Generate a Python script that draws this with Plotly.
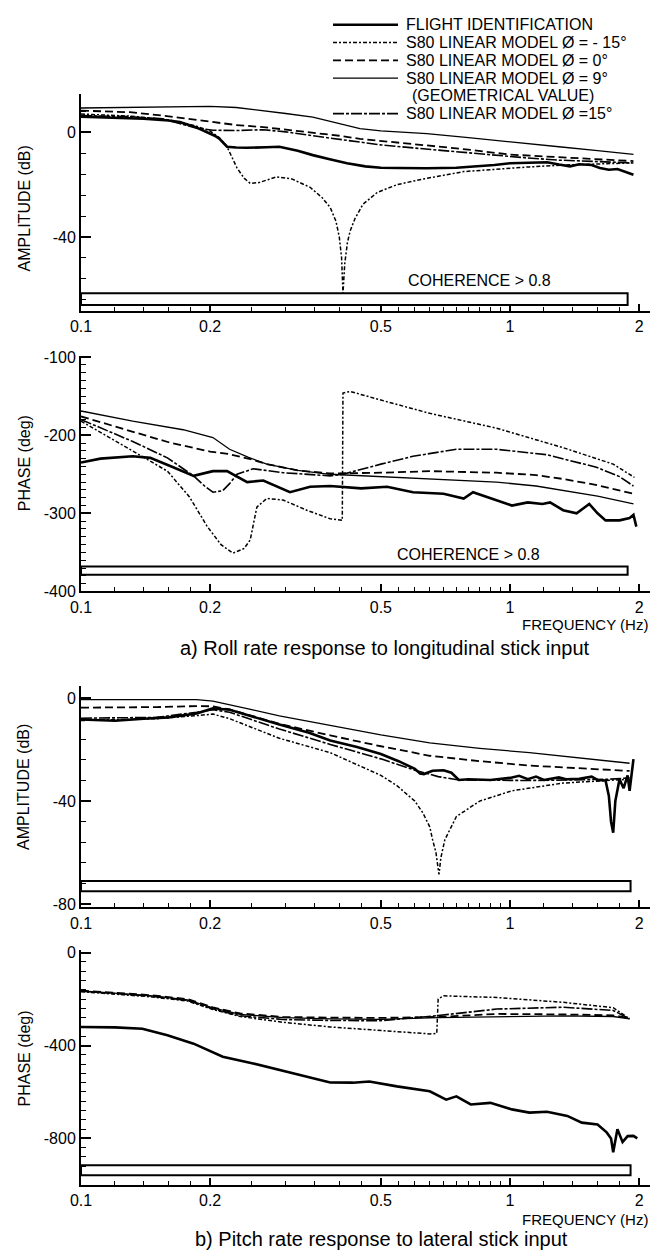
import math
import plotly.graph_objects as go

# ================= DATA =================
# ---- a) Roll rate response to longitudinal stick input : AMPLITUDE (dB) ----
aA_F_f = [0.1, 0.12, 0.14, 0.16, 0.17, 0.185, 0.197, 0.205, 0.21, 0.215, 0.219, 0.23, 0.244, 0.27, 0.29,
          0.32, 0.347, 0.38, 0.417, 0.46, 0.5, 0.55, 0.64, 0.75, 0.84, 0.92, 1.0, 1.1, 1.22, 1.3, 1.38,
          1.45, 1.55, 1.62, 1.7, 1.78, 1.85, 1.9, 1.94]
aA_F_v = [6.0, 5.6, 5.2, 4.5, 3.9, 2.0, 0.0, -1.3, -2.4, -4.0, -5.5, -5.8, -5.9, -5.7, -5.5,
          -7.0, -8.7, -10.3, -11.8, -13.0, -13.5, -13.6, -13.7, -13.5, -13.1, -12.5, -11.8, -11.6, -11.4, -12.3, -13.0,
          -12.2, -12.5, -13.6, -14.3, -14.0, -15.0, -15.4, -16.2]
aA_N_f = [0.1, 0.13, 0.16, 0.185, 0.2, 0.21, 0.219, 0.231, 0.24, 0.248, 0.26, 0.275, 0.286, 0.31, 0.342,
          0.365, 0.381, 0.393, 0.4, 0.405, 0.408, 0.412, 0.418, 0.424, 0.435, 0.454, 0.49, 0.545, 0.62, 0.78,
          0.95, 1.11, 1.33, 1.6, 1.9]
aA_N_v = [7.0, 6.2, 4.8, 2.5, 0.5, -2.0, -5.5, -13.6, -17.5, -19.5, -19.2, -17.8, -17.0, -17.8, -21.0,
          -25.0, -28.7, -34.0, -40.0, -48.0, -61.5, -50.0, -42.0, -37.7, -33.0, -27.5, -23.0, -20.0, -18.0, -15.0,
          -13.9, -13.2, -12.5, -12.0, -11.7]
aA_D_f = [0.1, 0.13, 0.155, 0.18, 0.203, 0.23, 0.266, 0.3, 0.347, 0.4, 0.447, 0.5, 0.6, 0.76, 1.0, 1.3, 1.6, 1.94]
aA_D_v = [8.3, 7.7, 6.4, 5.0, 3.9, 2.8, 2.0, 1.0, 0.0, -1.3, -2.5, -3.3, -4.5, -6.2, -8.5, -9.4, -10.2, -11.0]
aA_T_f = [0.1, 0.12, 0.15, 0.18, 0.2, 0.23, 0.266, 0.3, 0.347, 0.4, 0.447, 0.5, 0.64, 0.8, 0.91, 1.1, 1.3, 1.6, 1.94]
aA_T_v = [9.3, 9.4, 9.6, 9.8, 9.9, 9.5, 8.3, 7.2, 5.8, 3.2, 1.4, 0.6, -0.5, -2.0, -3.0, -4.2, -5.5, -7.0, -8.4]
aA_M_f = [0.1, 0.13, 0.155, 0.17, 0.186, 0.203, 0.23, 0.266, 0.3, 0.347, 0.4, 0.447, 0.5, 0.6, 0.75, 0.91,
          1.1, 1.3, 1.6, 1.94]
aA_M_v = [6.4, 6.0, 5.2, 3.5, 1.6, 0.8, 0.7, 1.0, 0.2, -1.3, -2.6, -3.6, -4.8, -6.0, -7.5, -8.7,
          -9.8, -10.6, -11.2, -11.7]

# ---- a) PHASE (deg) ----
aP_F_f = [0.1, 0.111, 0.132, 0.145, 0.164, 0.183, 0.203, 0.219, 0.244, 0.266, 0.307, 0.342, 0.381, 0.408,
          0.45, 0.517, 0.594, 0.7, 0.78, 0.82, 0.88, 1.01, 1.1, 1.19, 1.24, 1.33, 1.43, 1.53, 1.6, 1.67,
          1.8, 1.9, 1.94, 1.97]
aP_F_v = [-235, -230, -227, -229, -241, -252, -246, -246, -260, -258, -273, -266, -265, -266,
          -268, -266, -273, -275, -281, -273, -279, -290, -286, -288, -286, -296, -300, -288, -300, -309,
          -309, -306, -302, -317]
aP_N_f = [0.1, 0.132, 0.159, 0.179, 0.197, 0.212, 0.226, 0.24, 0.248, 0.257, 0.271, 0.296, 0.336, 0.381,
          0.401, 0.4065, 0.408, 0.424, 0.5, 0.65, 0.93, 1.33, 1.74, 1.95]
aP_N_v = [-182, -220, -246, -279, -317, -340, -351, -345, -334, -292, -281, -283, -296, -307,
          -309, -309, -146, -144, -155, -172, -191, -216, -237, -254]
aP_D_f = [0.1, 0.132, 0.16, 0.2, 0.22, 0.25, 0.271, 0.32, 0.381, 0.5, 0.65, 0.93, 1.15, 1.33, 1.6, 1.94]
aP_D_v = [-176, -195, -209, -221, -224, -231, -237, -245, -249, -248, -246, -248, -251, -256, -264, -275]
aP_T_f = [0.1, 0.132, 0.173, 0.203, 0.222, 0.245, 0.271, 0.32, 0.381, 0.545, 0.75, 0.93, 1.15, 1.33, 1.6, 1.94]
aP_T_v = [-169, -182, -193, -203, -218, -228, -237, -245, -250, -254, -257, -260, -265, -271, -278, -288]
aP_M_f = [0.1, 0.132, 0.159, 0.183, 0.195, 0.203, 0.214, 0.222, 0.231, 0.252, 0.296, 0.381, 0.408, 0.5,
          0.594, 0.75, 0.93, 1.22, 1.59, 1.8, 1.94]
aP_M_v = [-180, -208, -229, -252, -266, -273, -271, -262, -250, -243, -248, -252, -250, -237,
          -227, -218, -218, -225, -241, -253, -265]

# ---- b) Pitch rate response to lateral stick input : AMPLITUDE (dB) ----
bA_F_f = [0.1, 0.12, 0.14, 0.16, 0.186, 0.203, 0.222, 0.26, 0.29, 0.34, 0.381, 0.44, 0.5, 0.55, 0.6, 0.617,
          0.63, 0.66, 0.7, 0.73, 0.75, 0.76, 0.8, 0.9, 1.0, 1.05, 1.1, 1.15, 1.2, 1.3, 1.35, 1.45, 1.55, 1.6,
          1.67, 1.7, 1.72, 1.74, 1.76, 1.8, 1.84, 1.88, 1.9, 1.94]
bA_F_v = [-8.3, -8.8, -8.0, -7.5, -6.0, -4.0, -4.5, -8.0, -10.3, -13.5, -16.5, -19.0, -21.7, -24.5, -27.5, -29.3,
          -29.5, -28.2, -28.0, -29.0, -31.0, -31.8, -31.5, -31.8, -31.0, -30.2, -31.5, -30.5, -31.8, -30.8, -31.5,
          -31.3, -30.5, -31.8, -32.0, -38.0, -48.0, -52.3, -40.0, -31.5, -35.0, -30.0, -36.0, -23.7]
bA_N_f = [0.1, 0.15, 0.186, 0.203, 0.222, 0.29, 0.381, 0.5, 0.545, 0.6, 0.626, 0.65, 0.66, 0.672, 0.683,
          0.69, 0.705, 0.75, 0.85, 1.01, 1.33, 1.8, 1.9]
bA_N_v = [-8.7, -8.0, -6.8, -6.2, -8.0, -15.6, -21.2, -30.0, -34.0, -40.0, -44.5, -50.0, -55.0, -60.0, -68.5,
          -62.0, -55.0, -46.0, -40.0, -36.0, -33.0, -31.8, -31.5]
bA_D_f = [0.1, 0.15, 0.186, 0.203, 0.222, 0.25, 0.29, 0.381, 0.5, 0.65, 0.85, 1.11, 1.4, 1.8, 1.9]
bA_D_v = [-3.7, -3.5, -3.1, -3.2, -4.4, -7.0, -10.0, -14.5, -18.7, -22.4, -24.5, -26.2, -27.2, -28.0, -28.3]
bA_T_f = [0.1, 0.15, 0.186, 0.203, 0.222, 0.25, 0.29, 0.381, 0.5, 0.65, 0.85, 1.11, 1.4, 1.8, 1.9]
bA_T_v = [-0.6, -0.6, -0.6, -1.2, -2.5, -4.5, -6.9, -10.6, -14.3, -17.4, -19.5, -21.2, -23.0, -24.9, -25.3]
bA_M_f = [0.1, 0.15, 0.186, 0.203, 0.222, 0.29, 0.381, 0.5, 0.6, 0.68, 0.76, 0.9, 1.1, 1.4, 1.7, 1.9]
bA_M_v = [-7.8, -7.5, -5.5, -4.5, -5.5, -12.0, -18.0, -23.6, -28.0, -30.5, -31.8, -32.0, -32.0, -31.8, -31.5, -31.0]

# ---- b) PHASE (deg) ----
bP_F_f = [0.1, 0.12, 0.139, 0.159, 0.183, 0.203, 0.214, 0.252, 0.312, 0.381, 0.43, 0.47, 0.545, 0.65, 0.71,
          0.75, 0.81, 0.9, 1.01, 1.11, 1.22, 1.36, 1.47, 1.6, 1.68, 1.72, 1.74, 1.76, 1.78, 1.83, 1.88, 1.94, 1.98]
bP_F_v = [-320, -322, -328, -356, -392, -427, -448, -477, -519, -559, -560, -555, -576, -597, -633,
          -619, -654, -647, -675, -689, -685, -703, -732, -740, -774, -800, -860, -800, -760, -816, -790, -789, -800]
bP_N_f = [0.1, 0.145, 0.177, 0.203, 0.235, 0.296, 0.381, 0.5, 0.6, 0.65, 0.675, 0.68, 0.7, 0.93, 1.33, 1.74, 1.9]
bP_N_v = [-168, -190, -208, -245, -275, -300, -320, -335, -345, -350, -348, -200, -186, -193, -214, -237, -285]
bP_M_f = [0.1, 0.145, 0.177, 0.203, 0.235, 0.296, 0.381, 0.5, 0.68, 0.93, 1.33, 1.74, 1.9]
bP_D_v = [-163, -183, -200, -236, -262, -277, -280, -281, -277, -264, -266, -270, -282]
bP_T_v = [-165, -185, -203, -238, -266, -280, -285, -287, -280, -275, -272, -275, -285]
bP_M_v = [-166, -187, -205, -242, -272, -288, -292, -293, -271, -243, -235, -249, -285]

# axis ticks
x_tickvals = [0.1, 0.2, 0.5, 1, 2]
x_ticktext = ["0.1", "0.2", "0.5", "1", "2"]
x_minor = [0.12, 0.14, 0.16, 0.18, 0.25, 0.3, 0.35, 0.4, 0.45, 0.55, 0.6, 0.65, 0.7, 0.75, 0.8,
           0.85, 0.9, 0.95, 1.2, 1.4, 1.6, 1.8]

legend_labels = ["FLIGHT IDENTIFICATION", "S80 LINEAR MODEL Ø = - 15°", "S80 LINEAR MODEL Ø = 0°",
                 "S80 LINEAR MODEL Ø = 9°", "S80 LINEAR MODEL Ø =15°"]

# ================= STYLE =================
W, H = 659, 1259
ML, MR = 81, 9
PW = W - ML - MR
FONT = "Liberation Sans Narrow, Liberation Sans, Arial, sans-serif"
FONT2 = "Liberation Sans, Arial, sans-serif"

STY = {
    "F": dict(color="black", width=2.6, dash="solid"),
    "N": dict(color="black", width=1.5, dash="4px,2px,2px,2px"),
    "D": dict(color="black", width=1.8, dash="8px,4px"),
    "T": dict(color="black", width=1.3, dash="solid"),
    "M": dict(color="black", width=1.6, dash="11px,2px,3px,2px"),
}


def py(p):
    return 1 - p / H


def px(p):
    return (p - ML) / PW


fig = go.Figure()

panels = [
    ("x", "y", [("F", aA_F_f, aA_F_v), ("N", aA_N_f, aA_N_v), ("D", aA_D_f, aA_D_v),
                ("T", aA_T_f, aA_T_v), ("M", aA_M_f, aA_M_v)]),
    ("x2", "y2", [("F", aP_F_f, aP_F_v), ("N", aP_N_f, aP_N_v), ("D", aP_D_f, aP_D_v),
                  ("T", aP_T_f, aP_T_v), ("M", aP_M_f, aP_M_v)]),
    ("x3", "y3", [("F", bA_F_f, bA_F_v), ("N", bA_N_f, bA_N_v), ("D", bA_D_f, bA_D_v),
                  ("T", bA_T_f, bA_T_v), ("M", bA_M_f, bA_M_v)]),
    ("x4", "y4", [("F", bP_F_f, bP_F_v), ("N", bP_N_f, bP_N_v), ("D", bP_M_f, bP_D_v),
                  ("T", bP_M_f, bP_T_v), ("M", bP_M_f, bP_M_v)]),
]
for xa, ya, curves in panels:
    for key, f, v in curves:
        fig.add_trace(go.Scatter(x=f, y=v, mode="lines", line=STY[key], xaxis=xa, yaxis=ya,
                                 showlegend=False, hoverinfo="skip"))

# domains in pixels (top, bottom)
doms = [(88, 308), (353, 592), (688, 912), (955, 1193)]
yranges = [[-68.3, 14.7], [-400, -98], [-81.3, 4.6], [-1000, 12]]
ymajor = [[0, -40], [-100, -200, -300, -400], [0, -40, -80], [0, -400, -800]]
yminor = [8, 10, 8, 40]

layout = dict(width=W, height=H, margin=dict(l=ML, r=MR, t=0, b=0),
              paper_bgcolor="white", plot_bgcolor="white", showlegend=False)
for i in range(4):
    sx = "" if i == 0 else str(i + 1)
    top, bot = doms[i]
    layout["xaxis" + sx] = dict(
        type="log", range=[-1, math.log10(2.12)], domain=[0, 1], anchor="y" + sx,
        showline=True, linecolor="black", linewidth=2, ticks="inside", ticklen=7, tickwidth=1.5,
        tickcolor="black", tickvals=x_tickvals, ticktext=x_ticktext, showgrid=False, zeroline=False,
        tickfont=dict(family=FONT, size=16, color="black"),
        minor=dict(tickvals=x_minor, ticks="inside", ticklen=4, tickwidth=1, tickcolor="black", showgrid=False))
    layout["yaxis" + sx] = dict(
        range=yranges[i], domain=[py(bot), py(top)], anchor="x" + sx,
        showline=True, linecolor="black", linewidth=2, ticks="inside", ticklen=10, tickwidth=1.5,
        tickcolor="black", tickvals=ymajor[i], ticktext=[str(t) for t in ymajor[i]],
        showgrid=False, zeroline=False, tickfont=dict(family=FONT, size=16, color="black"),
        minor=dict(dtick=yminor[i], tick0=0, ticks="inside", ticklen=5, tickwidth=1.2,
                   tickcolor="black", showgrid=False))
fig.update_layout(**layout)

# coherence bars
bars = [("x", "y", 1.88, -61.5, -66.0), ("x2", "y2", 1.88, -368, -378.5),
        ("x3", "y3", 1.91, -71.0, -75.0), ("x4", "y4", 1.91, -916, -959)]
for xa, ya, x1, y0, y1 in bars:
    fig.add_shape(type="rect", xref=xa, yref=ya, x0=0.1, x1=x1, y0=y0, y1=y1,
                  line=dict(color="black", width=2), fillcolor="rgba(0,0,0,0)")

ann = []


def note(**kw):
    kw.setdefault("showarrow", False)
    kw.setdefault("yanchor", "middle")
    kw.setdefault("xanchor", "center")
    kw.setdefault("borderpad", 0)
    ann.append(kw)


note(xref="x", yref="y", x=math.log10(0.85), y=-56.5, text="COHERENCE > 0.8",
     font=dict(family=FONT2, size=16, color="black"))
note(xref="x2", yref="y2", x=math.log10(0.80), y=-353, text="COHERENCE > 0.8",
     font=dict(family=FONT2, size=16, color="black"))

# axis titles
for txt, yc in [("AMPLITUDE (dB)", 204), ("PHASE (deg)", 462), ("AMPLITUDE (dB)", 790), ("PHASE (deg)", 1065)]:
    note(xref="paper", yref="paper", x=px(24), y=py(yc), text=txt, textangle=-90,
         font=dict(family=FONT2, size=16, color="black"))
for yc in [625, 1228]:
    note(xref="paper", yref="paper", x=px(649), y=py(yc), xanchor="right",
         text="FREQUENCY (Hz)", font=dict(family=FONT2, size=15, color="black"))
note(xref="paper", yref="paper", x=px(385), y=py(649), text="a) Roll rate response to longitudinal stick input",
     font=dict(family=FONT2, size=20, color="black"))
note(xref="paper", yref="paper", x=px(381), y=py(1248), text="b) Pitch rate response to lateral stick input",
     font=dict(family=FONT2, size=20, color="black"))

# legend (drawn)
rows = [18, 36, 54, 72, 108]
keys = ["F", "N", "D", "T", "M"]
for k, lab, ry in zip(keys, legend_labels, rows):
    st = STY[k]
    fig.add_shape(type="line", xref="paper", yref="paper", x0=px(333), x1=px(398), y0=py(ry), y1=py(ry),
                  line=dict(color="black", width=st["width"], dash=st["dash"]))
    note(xref="paper", yref="paper", x=px(405), y=py(ry), xanchor="left", text=lab,
         font=dict(family=FONT2, size=16, color="black"))
note(xref="paper", yref="paper", x=px(411), y=py(90), xanchor="left", text="(GEOMETRICAL VALUE)",
     font=dict(family=FONT2, size=16, color="black"))

fig.update_layout(annotations=ann)
fig.write_html("out.html")
